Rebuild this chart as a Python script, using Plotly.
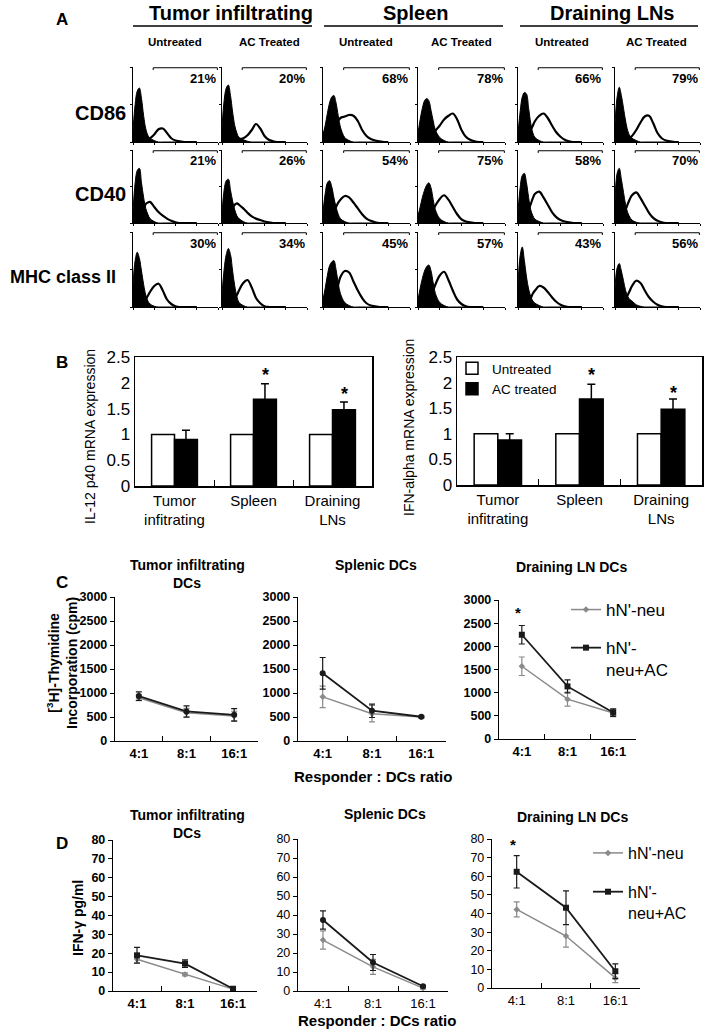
import plotly.graph_objects as go

W, H = 708, 1029
FONT = "Liberation Sans, Arial, sans-serif"

# ---------------- Panel A: flow cytometry histograms ----------------
tissue_labels = ["Tumor infiltrating", "Spleen", "Draining LNs"]
condition_labels = ["Untreated", "AC Treated", "Untreated", "AC Treated", "Untreated", "AC Treated"]
marker_labels = ["CD86", "CD40", "MHC class II"]
log_fluor = [0, 0.1, 0.2, 0.3, 0.4, 0.5, 0.6, 0.7, 0.8, 1.0, 1.2, 1.4, 1.6, 1.8, 2.0, 2.2, 2.4, 2.6, 2.8, 3.0]

pct_cd86 = [21, 20, 68, 78, 66, 79]
pct_cd40 = [21, 26, 54, 75, 58, 70]
pct_mhc2 = [30, 34, 45, 57, 43, 56]

isotype_cd86 = [
    [15, 50, 68, 72, 58, 35, 18, 9, 5, 2, 0, 0, 0, 0, 0, 0, 0, 0, 0, 0],
    [20, 55, 72, 76, 62, 40, 22, 12, 6, 3, 1, 0, 0, 0, 0, 0, 0, 0, 0, 0],
    [10, 22, 38, 52, 60, 62, 52, 35, 20, 6, 2, 0, 0, 0, 0, 0, 0, 0, 0, 0],
    [12, 30, 45, 55, 58, 55, 42, 28, 16, 6, 2, 0, 0, 0, 0, 0, 0, 0, 0, 0],
    [12, 40, 60, 66, 64, 45, 25, 12, 6, 2, 0, 0, 0, 0, 0, 0, 0, 0, 0, 0],
    [25, 60, 73, 62, 45, 28, 15, 8, 5, 2, 0, 0, 0, 0, 0, 0, 0, 0, 0, 0],
]
stain_cd86 = [
    [0, 0, 1, 2, 3, 4, 4, 4, 5, 10, 17, 18, 12, 5, 2, 1, 0, 0, 0, 0],
    [0, 0, 1, 2, 3, 4, 4, 4, 4, 5, 9, 16, 24, 18, 8, 3, 1, 0, 0, 0],
    [0, 0, 2, 4, 8, 14, 22, 28, 32, 34, 36, 35, 28, 16, 8, 4, 2, 1, 0, 0],
    [0, 0, 1, 2, 3, 5, 8, 11, 15, 22, 30, 35, 38, 30, 16, 7, 3, 1, 0, 0],
    [0, 0, 1, 3, 6, 10, 16, 22, 28, 35, 38, 32, 22, 13, 7, 3, 1, 0, 0, 0],
    [0, 0, 1, 2, 3, 4, 5, 6, 8, 16, 26, 34, 35, 25, 12, 5, 2, 1, 0, 0],
]
isotype_cd40 = [
    [15, 55, 72, 75, 55, 35, 20, 12, 6, 2, 0, 0, 0, 0, 0, 0, 0, 0, 0, 0],
    [15, 45, 58, 60, 45, 30, 18, 10, 6, 2, 0, 0, 0, 0, 0, 0, 0, 0, 0, 0],
    [15, 40, 55, 58, 50, 35, 22, 12, 6, 2, 0, 0, 0, 0, 0, 0, 0, 0, 0, 0],
    [10, 22, 35, 45, 52, 55, 48, 32, 18, 6, 2, 0, 0, 0, 0, 0, 0, 0, 0, 0],
    [15, 48, 65, 68, 55, 35, 18, 10, 5, 2, 0, 0, 0, 0, 0, 0, 0, 0, 0, 0],
    [30, 68, 75, 60, 42, 25, 14, 8, 4, 1, 0, 0, 0, 0, 0, 0, 0, 0, 0, 0],
]
stain_cd40 = [
    [0, 0, 2, 5, 12, 20, 26, 28, 29, 22, 15, 10, 6, 3, 1, 0, 0, 0, 0, 0],
    [0, 0, 2, 5, 12, 20, 25, 27, 25, 20, 14, 9, 6, 4, 2, 1, 0, 0, 0, 0],
    [0, 0, 2, 5, 10, 16, 22, 28, 32, 37, 35, 28, 20, 12, 6, 3, 1, 0, 0, 0],
    [0, 0, 1, 2, 4, 7, 12, 18, 24, 33, 38, 32, 22, 12, 5, 2, 1, 0, 0, 0],
    [0, 0, 2, 5, 10, 18, 26, 34, 40, 43, 35, 25, 15, 8, 4, 2, 1, 0, 0, 0],
    [0, 0, 2, 5, 10, 18, 26, 33, 38, 42, 34, 24, 14, 7, 3, 1, 0, 0, 0, 0],
]
isotype_mhc2 = [
    [30, 62, 73, 65, 48, 30, 16, 8, 4, 1, 0, 0, 0, 0, 0, 0, 0, 0, 0, 0],
    [18, 50, 70, 78, 70, 48, 28, 14, 6, 2, 0, 0, 0, 0, 0, 0, 0, 0, 0, 0],
    [10, 25, 42, 55, 60, 62, 50, 32, 18, 6, 2, 0, 0, 0, 0, 0, 0, 0, 0, 0],
    [10, 25, 38, 48, 54, 56, 48, 32, 18, 6, 2, 0, 0, 0, 0, 0, 0, 0, 0, 0],
    [30, 68, 80, 62, 40, 24, 14, 8, 5, 2, 0, 0, 0, 0, 0, 0, 0, 0, 0, 0],
    [25, 52, 58, 48, 35, 22, 14, 10, 8, 3, 1, 0, 0, 0, 0, 0, 0, 0, 0, 0],
]
stain_mhc2 = [
    [0, 0, 1, 2, 4, 6, 10, 15, 20, 28, 31, 22, 10, 4, 1, 0, 0, 0, 0, 0],
    [0, 0, 1, 2, 4, 7, 11, 16, 22, 32, 36, 26, 12, 5, 1, 0, 0, 0, 0, 0],
    [0, 0, 1, 3, 6, 12, 20, 30, 40, 48, 46, 34, 22, 12, 5, 2, 1, 0, 0, 0],
    [0, 0, 1, 2, 4, 8, 14, 22, 30, 42, 47, 36, 22, 10, 4, 1, 0, 0, 0, 0],
    [0, 0, 1, 2, 4, 8, 12, 18, 22, 28, 26, 20, 13, 7, 3, 1, 0, 0, 0, 0],
    [0, 0, 1, 3, 6, 10, 16, 22, 28, 35, 32, 22, 13, 7, 3, 1, 0, 0, 0, 0],
]

# ---------------- Panel B: mRNA expression ----------------
b_categories = ["Tumor<br>infitrating", "Spleen", "Draining<br>LNs"]
il12_untreated = [1.0, 1.0, 1.0]
il12_ac = [0.90, 1.68, 1.48]
il12_ac_err = [0.18, 0.30, 0.15]
il12_star_y = [None, 2.15, 1.78]
ifna_untreated = [1.0, 1.0, 1.0]
ifna_ac = [0.88, 1.68, 1.48]
ifna_ac_err = [0.12, 0.29, 0.20]
ifna_star_y = [None, 2.15, 1.80]

# ---------------- Panel C: thymidine incorporation ----------------
ratios = ["4:1", "8:1", "16:1"]
c_tumor_neu = [900, 590, 520]
c_tumor_neu_err = [60, 90, 100]
c_tumor_ac = [935, 615, 545]
c_tumor_ac_err = [90, 117, 130]
c_spleen_neu = [920, 570, 500]
c_spleen_neu_err = [225, 170, 20]
c_spleen_ac = [1410, 630, 505]
c_spleen_ac_err = [330, 140, 20]
c_dln_neu = [1570, 860, 560]
c_dln_neu_err = [200, 150, 80]
c_dln_ac = [2250, 1135, 570]
c_dln_ac_err = [200, 140, 80]
c_star_y = 2730

# ---------------- Panel D: IFN-gamma ----------------
d_tumor_neu = [16.8, 8.8, 1.0]
d_tumor_neu_err = [1.8, 0.8, 0.3]
d_tumor_ac = [18.9, 14.5, 1.2]
d_tumor_ac_err = [4.2, 2.0, 0.3]
d_spleen_neu = [26.8, 12.7, 1.5]
d_spleen_neu_err = [4.8, 3.9, 0.5]
d_spleen_ac = [37.4, 15.0, 2.5]
d_spleen_ac_err = [4.8, 4.2, 0.5]
d_dln_neu = [42.2, 27.9, 5.4]
d_dln_neu_err = [4.0, 6.0, 2.5]
d_dln_ac = [62.4, 43.1, 9.0]
d_dln_ac_err = [8.7, 9.0, 4.0]
d_star_y = 77

series_names = ["hN'-neu", "hN'-<br>neu+AC"]

# =====================================================================
fig = go.Figure()
layout = {}
annotations = []
shapes = []
counter = [0]


def px(x, y):
    return x / W, 1 - y / H


def new_axes(xr, yr, xa, ya):
    counter[0] += 1
    n = counter[0]
    s = "" if n == 1 else str(n)
    xa = dict(xa)
    ya = dict(ya)
    xa["domain"] = [xr[0] / W, xr[1] / W]
    ya["domain"] = [1 - yr[1] / H, 1 - yr[0] / H]
    xa["anchor"] = "y" + s
    ya["anchor"] = "x" + s
    xa["automargin"] = False
    ya["automargin"] = False
    layout["xaxis" + s] = xa
    layout["yaxis" + s] = ya
    return "x" + s, "y" + s


def text(x, y, t, size, bold=False, anchor="center", angle=0, family=FONT, color="black"):
    xx, yy = px(x, y)
    annotations.append(dict(x=xx, y=yy, xref="paper", yref="paper", text=t, showarrow=False,
                            xanchor=anchor, yanchor="middle", textangle=angle,
                            font=dict(size=size, family=family, color=color,
                                      weight="bold" if bold else "normal")))


def hline(x0, x1, y, width=1.5):
    a0, b0 = px(x0, y)
    a1, _ = px(x1, y)
    shapes.append(dict(type="line", xref="paper", yref="paper", x0=a0, x1=a1, y0=b0, y1=b0,
                       line=dict(color="black", width=width)))


# ---------------- Panel A layout ----------------
hist_cols = [(133, 218), (222, 307), (323, 410), (418, 505), (518, 603), (615, 700)]
hist_rows = [(67, 142), (150, 223), (232, 307)]
row_data = [(isotype_cd86, stain_cd86, pct_cd86),
            (isotype_cd40, stain_cd40, pct_cd40),
            (isotype_mhc2, stain_mhc2, pct_mhc2)]

hx = dict(range=[0, 4], showline=True, linecolor="black", linewidth=1, ticks="outside", ticklen=2,
          tickcolor="black", tickvals=[0, 1, 2, 3, 4], showticklabels=False, showgrid=False,
          zeroline=False, fixedrange=True)
hy = dict(range=[0, 100], showline=True, linecolor="black", linewidth=1, ticks="outside", ticklen=2,
          tickcolor="black", tickvals=[0, 50, 100], showticklabels=False, showgrid=False,
          zeroline=False, fixedrange=True)

for r, (iso_list, stain_list, pcts) in enumerate(row_data):
    for c in range(6):
        xr, yr = new_axes(hist_cols[c], hist_rows[r], hx, hy)
        fig.add_trace(go.Scatter(x=log_fluor, y=iso_list[c], mode="lines", fill="tozeroy",
                                 fillcolor="black", line=dict(color="black", width=1, shape="spline"),
                                 xaxis=xr, yaxis=yr, showlegend=False, hoverinfo="skip"))
        fig.add_trace(go.Scatter(x=log_fluor, y=stain_list[c], mode="lines",
                                 line=dict(color="black", width=2.2, shape="spline"),
                                 xaxis=xr, yaxis=yr, showlegend=False, hoverinfo="skip"))
        gy = 99
        shapes.append(dict(type="line", xref=xr, yref=yr, x0=0.95, x1=3.97, y0=gy, y1=gy,
                           line=dict(color="black", width=1.2)))
        for gx in (0.95, 3.97):
            shapes.append(dict(type="line", xref=xr, yref=yr, x0=gx, x1=gx, y0=gy - 3, y1=gy,
                               line=dict(color="black", width=1)))
        annotations.append(dict(x=3.98, y=85, xref=xr, yref=yr, text=f"{pcts[c]}%", showarrow=False,
                                xanchor="right", yanchor="middle",
                                font=dict(size=13, family=FONT, color="black", weight="bold")))

text(62, 20, "A", 17, bold=True)
text(231, 13, tissue_labels[0], 20, bold=True)
text(416, 13, tissue_labels[1], 20, bold=True)
text(612, 13, tissue_labels[2], 20, bold=True)
hline(133, 312, 26)
hline(324, 503, 26)
hline(520, 698, 26)
for cx, lab in zip([175, 269, 366, 461, 562, 656], condition_labels):
    text(cx, 42, lab, 11.5, bold=True)
text(100, 113, marker_labels[0], 20, bold=True)
text(100, 194, marker_labels[1], 20, bold=True)
text(63, 277, marker_labels[2], 18, bold=True)

# ---------------- Panel B ----------------
bx = dict(type="category", showline=True, mirror=True, linecolor="black", linewidth=1.5,
          ticks="inside", tickson="boundaries", ticklen=6, tickcolor="black",
          tickfont=dict(size=15, family=FONT, color="black"), showgrid=False, zeroline=False,
          fixedrange=True)
by = dict(range=[0, 2.5], dtick=0.5, showline=True, mirror=True, linecolor="black", linewidth=1.5,
          ticks="", tickfont=dict(size=17, family=FONT, color="black"), showgrid=False,
          zeroline=False, fixedrange=True)

b_sets = [((135, 372), (357, 486), il12_untreated, il12_ac, il12_ac_err, il12_star_y, True),
          ((457, 702), (357, 485), ifna_untreated, ifna_ac, ifna_ac_err, ifna_star_y, False)]
for xr_px, yr_px, unt, ac, acerr, stars, first in b_sets:
    xr, yr = new_axes(xr_px, yr_px, bx, by)
    fig.add_trace(go.Bar(x=b_categories, y=unt, name="Untreated", marker=dict(color="white",
                         line=dict(color="black", width=1.5)), xaxis=xr, yaxis=yr,
                         showlegend=not first, legend="legend", hoverinfo="skip"))
    fig.add_trace(go.Bar(x=b_categories, y=ac, name="AC treated", marker=dict(color="black",
                         line=dict(color="black", width=1.5)),
                         error_y=dict(type="data", array=acerr, color="black", thickness=1.5, width=4),
                         xaxis=xr, yaxis=yr, showlegend=not first, legend="legend", hoverinfo="skip"))
    for i, sy in enumerate(stars):
        if sy is not None:
            annotations.append(dict(x=i, y=sy, xref=xr, yref=yr, xshift=12, text="*", showarrow=False,
                                    font=dict(size=18, family=FONT, color="black", weight="bold")))

text(62, 362, "B", 17, bold=True)
text(90, 437, "IL-12 p40 mRNA expression", 14, angle=-90)
text(409, 428, "IFN-alpha mRNA expression", 14, angle=-90)

# ---------------- Panels C and D ----------------
def line_axes(ybold, yrange, ydtick):
    xa = dict(type="category", range=[-0.5, 2.5], showline=True, linecolor="black", linewidth=1.2,
              ticks="inside", tickson="boundaries", ticklen=5, tickcolor="black",
              tickfont=dict(size=13, family=FONT, color="black", weight="bold" if ybold else "normal"),
              showgrid=False, zeroline=False, fixedrange=True)
    ya = dict(range=yrange, dtick=ydtick, showline=True, linecolor="black", linewidth=1.2,
              ticks="outside", ticklen=4, tickcolor="black",
              tickfont=dict(size=12.5, family=FONT, color="black", weight="bold" if ybold else "normal"),
              showgrid=False, zeroline=False, fixedrange=True)
    return xa, ya


GRAY = "#8a8a8a"
BLACK = "#1a1a1a"

c_panels = [((115, 258), (597, 741), c_tumor_neu, c_tumor_neu_err, c_tumor_ac, c_tumor_ac_err, "circle", None, True),
            ((298, 446), (597, 741), c_spleen_neu, c_spleen_neu_err, c_spleen_ac, c_spleen_ac_err, "circle", None, True),
            ((499, 636), (600, 739), c_dln_neu, c_dln_neu_err, c_dln_ac, c_dln_ac_err, "square", "legend2", True)]
d_panels = [((113, 257), (840, 991), d_tumor_neu, d_tumor_neu_err, d_tumor_ac, d_tumor_ac_err, "square", None, True),
            ((298, 448), (839, 991), d_spleen_neu, d_spleen_neu_err, d_spleen_ac, d_spleen_ac_err, "circle", None, False),
            ((492, 640), (839, 988), d_dln_neu, d_dln_neu_err, d_dln_ac, d_dln_ac_err, "square", "legend3", False)]

for panels, yrange, ydt, star_y in [(c_panels, [0, 3000], 500, c_star_y), (d_panels, [0, 80], 10, d_star_y)]:
    for xr_px, yr_px, neu, neu_e, ac, ac_e, sym, leg, bold in panels:
        xa, ya = line_axes(bold, yrange, ydt)
        xr, yr = new_axes(xr_px, yr_px, xa, ya)
        fig.add_trace(go.Scatter(x=ratios, y=neu, mode="lines+markers", name=series_names[0],
                                 line=dict(color=GRAY, width=1.5), marker=dict(symbol="diamond", size=5, color=GRAY),
                                 error_y=dict(type="data", array=neu_e, color=GRAY, thickness=1.2, width=3),
                                 xaxis=xr, yaxis=yr, showlegend=leg is not None, legend=leg or "legend",
                                 legendgroup=(leg or "") + "a", hoverinfo="skip"))
        fig.add_trace(go.Scatter(x=ratios, y=ac, mode="lines+markers", name=series_names[1],
                                 line=dict(color=BLACK, width=1.8), marker=dict(symbol=sym, size=6, color=BLACK),
                                 error_y=dict(type="data", array=ac_e, color=BLACK, thickness=1.2, width=3),
                                 xaxis=xr, yaxis=yr, showlegend=leg is not None, legend=leg or "legend",
                                 legendgroup=(leg or "") + "b", hoverinfo="skip"))
        if leg is not None:
            annotations.append(dict(x=0, y=star_y, xref=xr, yref=yr, xshift=-4, text="*", showarrow=False,
                                    font=dict(size=15, family=FONT, color="black", weight="bold")))

# Panel C texts
text(62, 582, "C", 17, bold=True)
text(187, 565, "Tumor infiltrating", 14, bold=True)
text(187, 583, "DCs", 14, bold=True)
text(376, 565, "Splenic DCs", 14, bold=True)
text(571, 567, "Draining LN DCs", 14, bold=True)
text(62, 663, "[<sup>3</sup>H]-Thymidine<br>Incorporation (cpm)", 14, bold=True, angle=-90)
text(373, 776, "Responder : DCs ratio", 15, bold=True)

# Panel D texts
text(62, 843, "D", 17, bold=True)
text(187, 815, "Tumor infiltrating", 14, bold=True)
text(187, 833, "DCs", 14, bold=True)
text(385, 814, "Splenic DCs", 14, bold=True)
text(572, 817, "Draining LN DCs", 14, bold=True)
text(78, 918, "IFN-γ pg/ml", 14, bold=True, angle=-90)
text(377, 1020, "Responder : DCs ratio", 15, bold=True)

lx, ly = px(452, 353)
l2x, l2y = px(566, 592)
l3x, l3y = px(588, 836)
layout.update(dict(
    width=W, height=H, margin=dict(l=0, r=0, t=0, b=0, pad=0, autoexpand=False),
    paper_bgcolor="white", plot_bgcolor="white",
    font=dict(family=FONT, color="black"),
    barmode="group", bargap=0.42, bargroupgap=0,
    showlegend=True,
    legend=dict(x=lx, y=ly, xanchor="left", yanchor="top", bgcolor="rgba(0,0,0,0)",
                font=dict(size=13.5, family=FONT, color="black"), itemwidth=30, tracegroupgap=0),
    legend2=dict(x=l2x, y=l2y, xanchor="left", yanchor="top", bgcolor="rgba(0,0,0,0)",
                 font=dict(size=17, family=FONT, color="black"), itemwidth=30, tracegroupgap=13,
                 valign="top"),
    legend3=dict(x=l3x, y=l3y, xanchor="left", yanchor="top", bgcolor="rgba(0,0,0,0)",
                 font=dict(size=16, family=FONT, color="black"), itemwidth=30, tracegroupgap=15,
                 valign="top"),
    annotations=annotations, shapes=shapes,
))
fig.update_layout(**layout)
fig.write_html("out.html", config={"displayModeBar": False, "staticPlot": True},
               post_script="document.body.style.margin='0px';document.body.style.padding='0px';"
                           "document.body.style.overflow='hidden';")
